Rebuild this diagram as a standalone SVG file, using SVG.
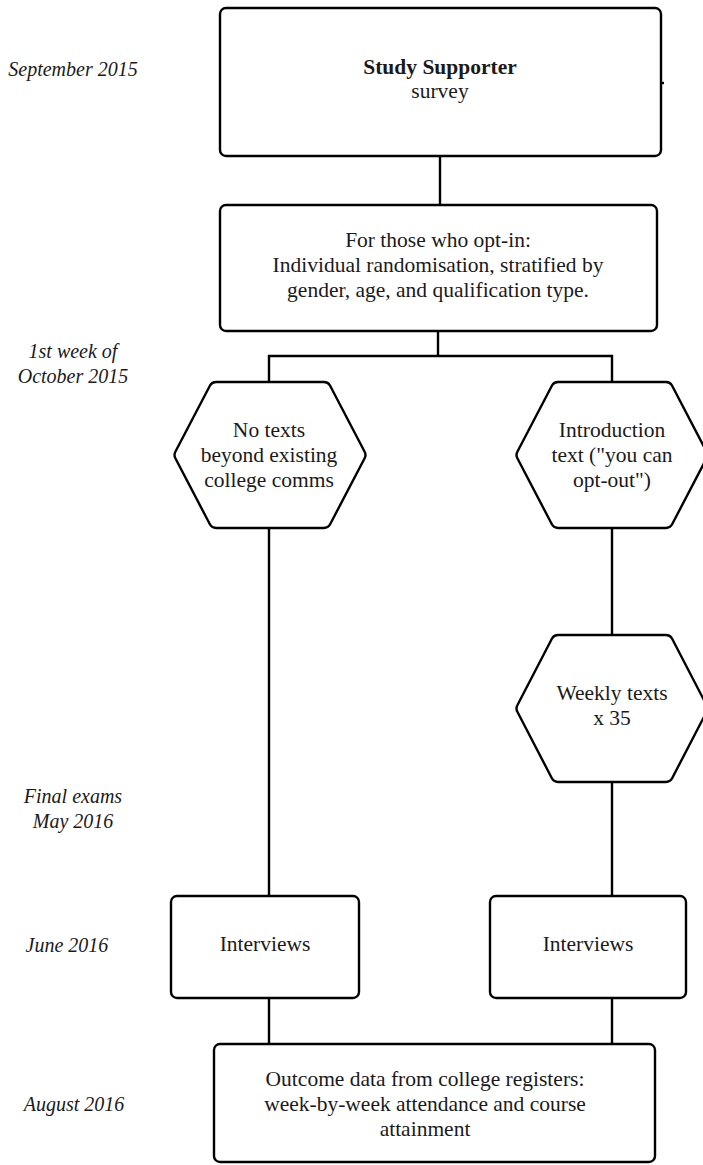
<svg xmlns="http://www.w3.org/2000/svg" width="703" height="1165" viewBox="0 0 703 1165">
  <style>
    .box { fill: #ffffff; stroke: #000000; stroke-width: 2.4; }
    .link { fill: none; stroke: #000000; stroke-width: 2.4; }
    .t { font-family: "Liberation Serif", "DejaVu Serif", serif; font-size: 21.5px; fill: #1a1a1a; text-anchor: middle; }
    .b { font-weight: bold; }
    .lab { font-family: "Liberation Serif", "DejaVu Serif", serif; font-size: 20px; font-style: italic; fill: #1a1a1a; text-anchor: middle; }
  </style>

  <!-- timeline labels -->
  <g id="timeline">
    <text class="lab" x="73" y="76">September 2015</text>
    <text class="lab" x="73" y="358">1st week of</text>
    <text class="lab" x="73" y="383">October 2015</text>
    <text class="lab" x="73" y="803">Final exams</text>
    <text class="lab" x="73" y="828">May 2016</text>
    <text class="lab" x="67" y="952">June 2016</text>
    <text class="lab" x="74" y="1111">August 2016</text>
  </g>

  <!-- connectors -->
  <g id="connectors">
    <path class="link" d="M440 156 V205"/>
    <path class="link" d="M438 331 V356"/>
    <path class="link" d="M269 382 V356 H612 V382"/>
    <path class="link" d="M269 528 V896"/>
    <path class="link" d="M612 528 V635"/>
    <path class="link" d="M612 782 V896"/>
    <path class="link" d="M269 998 V1044"/>
    <path class="link" d="M612 998 V1044"/>
    <path class="link" d="M661 83 H664"/>
  </g>

  <g id="survey">
    <rect class="box" x="220" y="8" width="441" height="148" rx="6"/>
    <text class="t b" x="440" y="74">Study Supporter</text>
    <text class="t" x="440" y="98">survey</text>
  </g>

  <g id="randomisation">
    <rect class="box" x="220" y="205" width="437" height="126" rx="6"/>
    <text class="t" x="438" y="247">For those who opt-in:</text>
    <text class="t" x="438" y="272">Individual randomisation, stratified by</text>
    <text class="t" x="438" y="297">gender, age, and qualification type.</text>
  </g>

  <g id="control">
    <path class="box" d="M216 382 H324 Q328 382 330 385.5 L364.5 451.5 Q366.5 455 364.5 458.5 L330 524.5 Q328 528 324 528 H216 Q212 528 210 524.5 L175.5 458.5 Q173.5 455 175.5 451.5 L210 385.5 Q212 382 216 382 Z"/>
    <text class="t" x="269" y="437">No texts</text>
    <text class="t" x="269" y="462">beyond existing</text>
    <text class="t" x="269" y="487">college comms</text>
  </g>

  <g id="intro">
    <path class="box" d="M558 382 H666 Q670 382 672 385.5 L706.5 451.5 Q708.5 455 706.5 458.5 L672 524.5 Q670 528 666 528 H558 Q554 528 552 524.5 L517.5 458.5 Q515.5 455 517.5 451.5 L552 385.5 Q554 382 558 382 Z"/>
    <text class="t" x="612" y="437">Introduction</text>
    <text class="t" x="612" y="462">text ("you can</text>
    <text class="t" x="612" y="487">opt-out")</text>
  </g>

  <g id="weekly">
    <path class="box" d="M558 635 H666 Q670 635 672 638.5 L706.5 705 Q708.5 708.5 706.5 712 L672 778.5 Q670 782 666 782 H558 Q554 782 552 778.5 L517.5 712 Q515.5 708.5 517.5 705 L552 638.5 Q554 635 558 635 Z"/>
    <text class="t" x="612" y="700">Weekly texts</text>
    <text class="t" x="612" y="725">x 35</text>
  </g>

  <g id="interviews-control">
    <rect class="box" x="171" y="896" width="188" height="102" rx="6"/>
    <text class="t" x="265" y="951">Interviews</text>
  </g>

  <g id="interviews-treatment">
    <rect class="box" x="490" y="896" width="196" height="102" rx="6"/>
    <text class="t" x="588" y="951">Interviews</text>
  </g>

  <g id="outcomes">
    <rect class="box" x="214" y="1044" width="441" height="118" rx="6"/>
    <text class="t" x="425" y="1086">Outcome data from college registers:</text>
    <text class="t" x="425" y="1111">week-by-week attendance and course</text>
    <text class="t" x="425" y="1136">attainment</text>
  </g>
</svg>
